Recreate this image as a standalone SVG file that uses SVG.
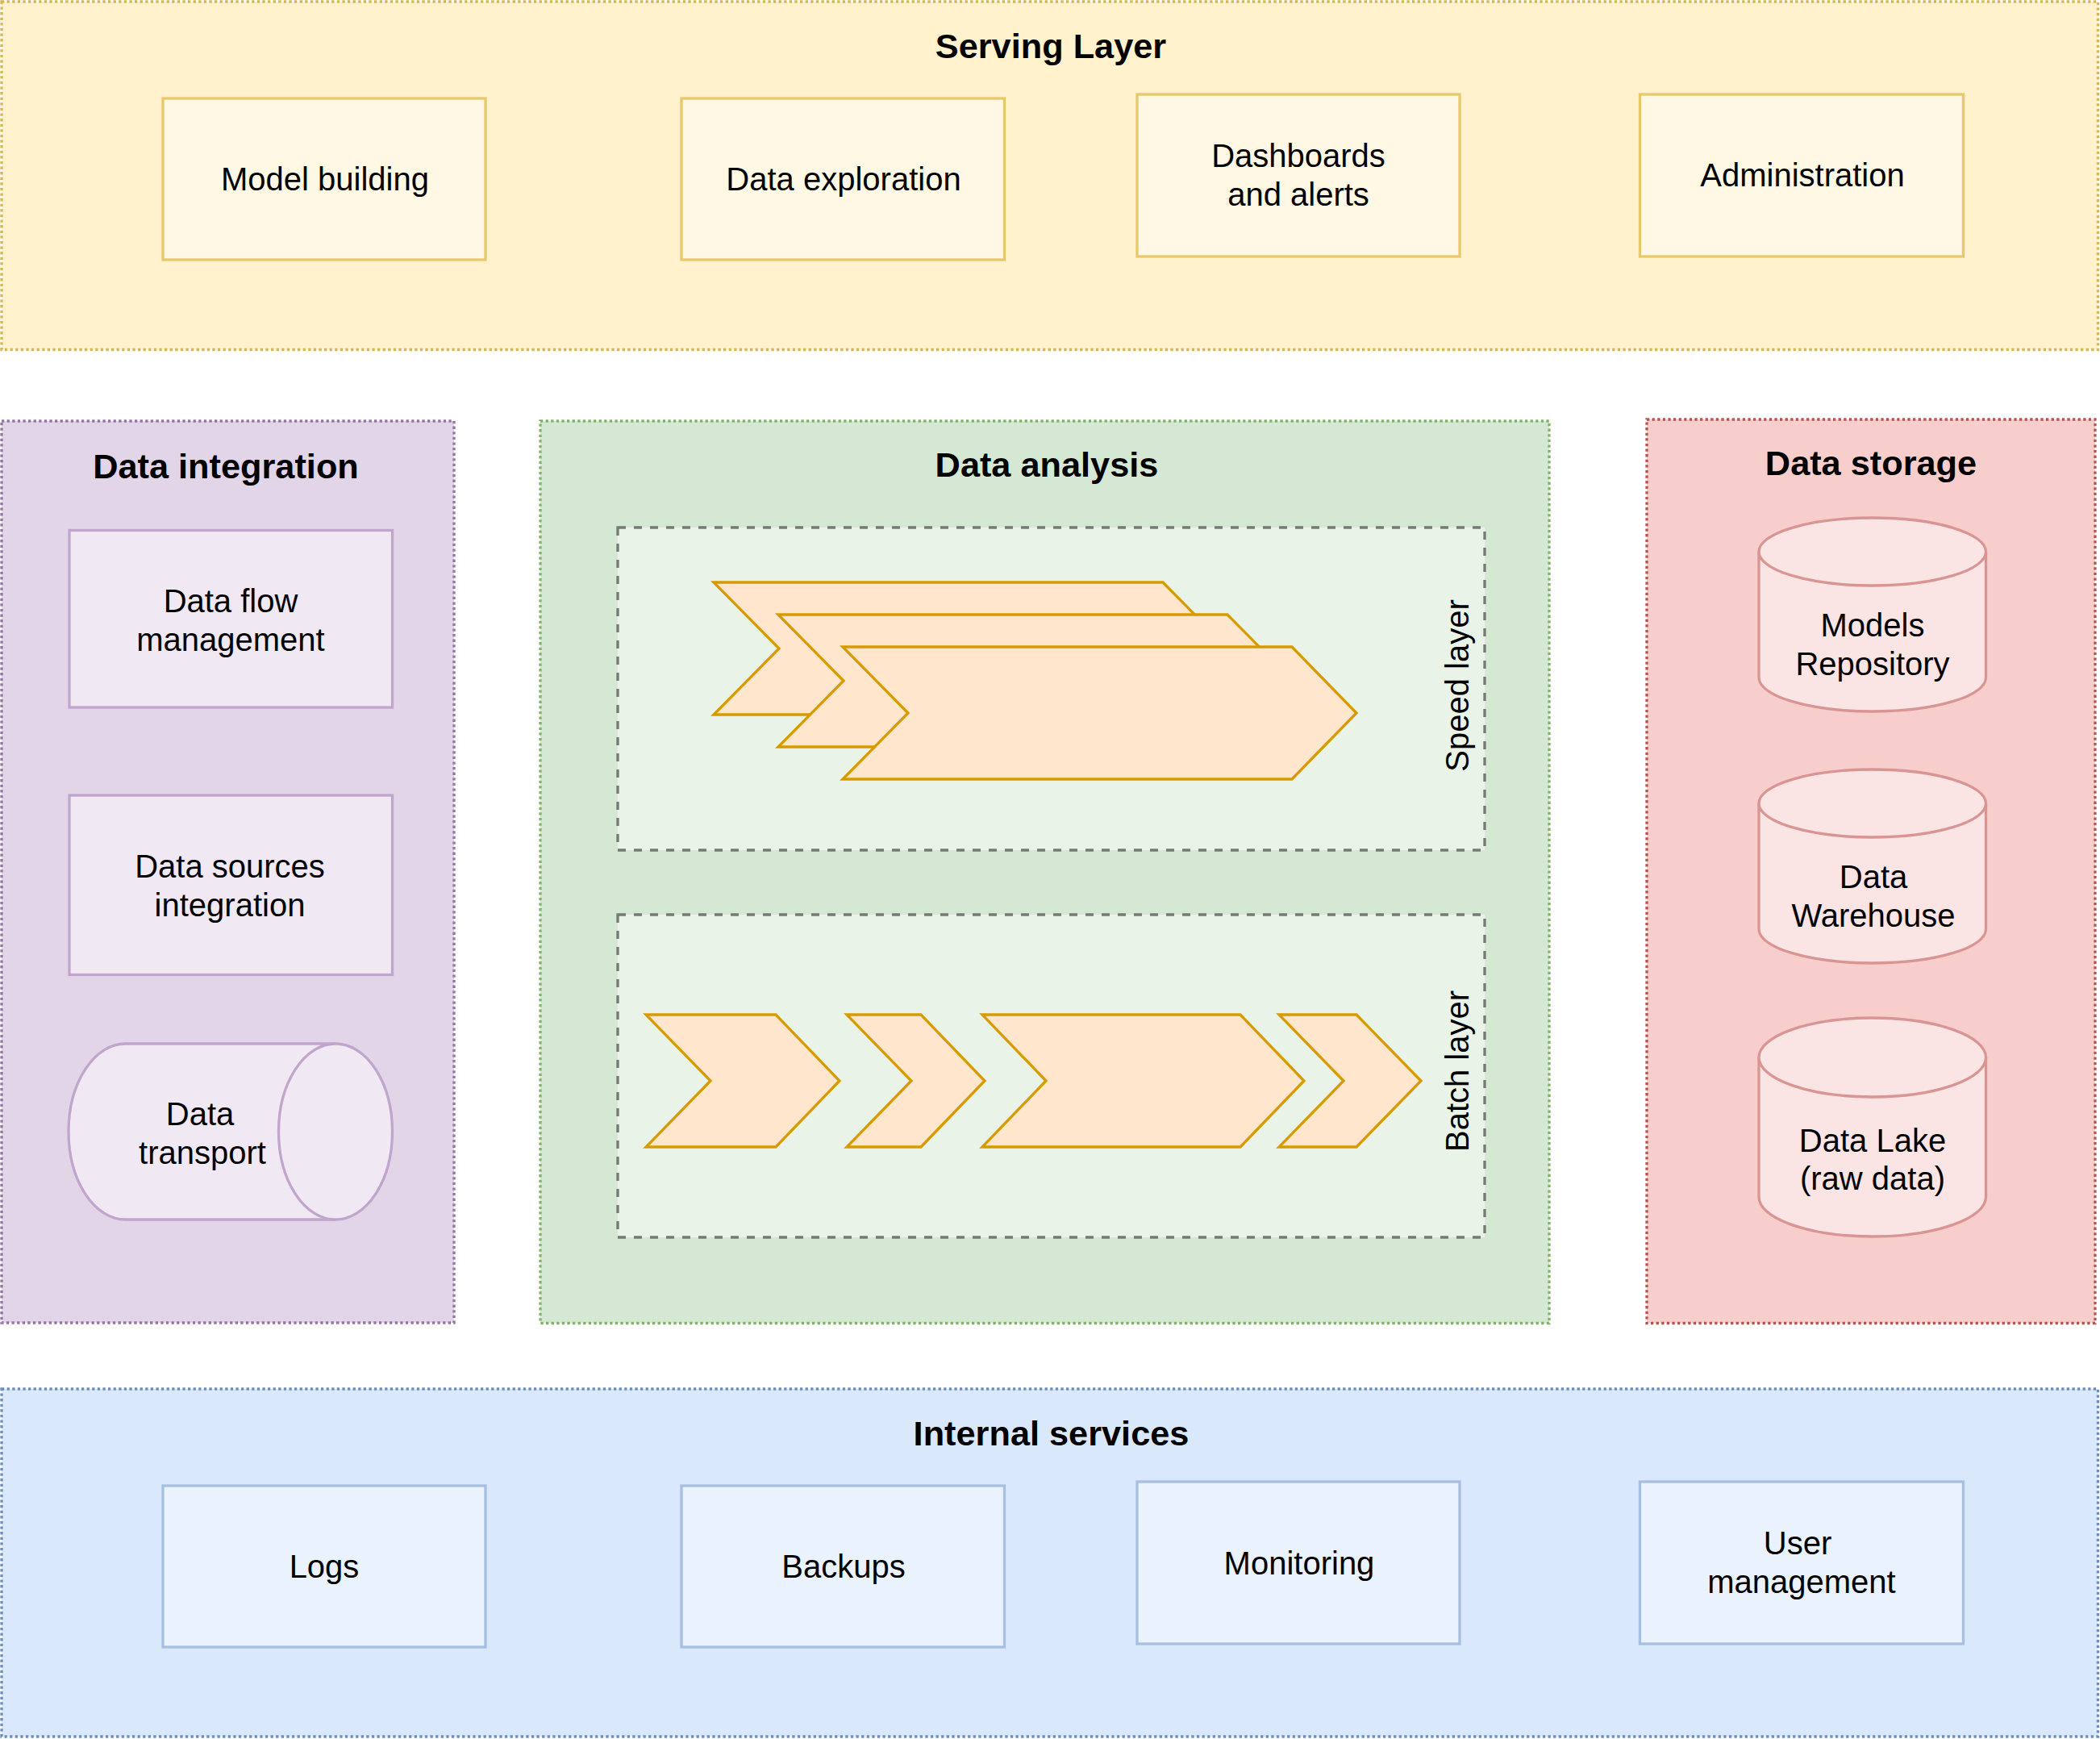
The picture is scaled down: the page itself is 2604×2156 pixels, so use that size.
<svg xmlns="http://www.w3.org/2000/svg" width="2604" height="2156" viewBox="0 0 2604 2156">
<style>
text{font-family:"Liberation Sans",Arial,Helvetica,sans-serif;fill:#000000;text-anchor:middle}
.t{font-size:40px}
.h{font-size:43.3px;font-weight:bold}
.cont{stroke-width:3.3;stroke-dasharray:3.3 3.3}
.box{stroke-width:3.3}
.sv{fill:#fff2cc;stroke:#d6b656}
.svi{fill:#fff8e5;stroke:#e9c76b}
.di{fill:#e1d5e7;stroke:#9673a6}
.dii{fill:#f0e9f3;stroke:#c0a5cd}
.da{fill:#d5e8d4;stroke:#82b366}
.lay{fill:#e9f3e8;stroke:#737b73;stroke-width:3.3;stroke-dasharray:10 10}
.chev{fill:#ffe6cc;stroke:#d79b00;stroke-width:3.3}
.ds{fill:#f8cecc;stroke:#b85450}
.dsi{fill:#fbe4e4;stroke:#d99593}
.is{fill:#dae8fc;stroke:#6c8ebf}
.isi{fill:#eaf2fd;stroke:#a7bfe0}
</style>
<rect width="2604" height="2156" fill="#ffffff"/>

<g id="serving-layer">
<rect class="cont sv" x="2" y="2" width="2599.5" height="431.5"/>
<text class="h" x="1303" y="72">Serving Layer</text>
</g>
<g id="model-building">
<rect class="box svi" x="202" y="122" width="400" height="200"/>
<text class="t" x="403" y="236">Model building</text>
</g>
<g id="data-exploration">
<rect class="box svi" x="845" y="122" width="400.5" height="200"/>
<text class="t" x="1046" y="236">Data exploration</text>
</g>
<g id="dashboards">
<rect class="box svi" x="1410" y="117" width="400" height="201"/>
<text class="t" x="1610" y="206.5">Dashboards</text>
<text class="t" x="1610" y="254.5">and alerts</text>
</g>
<g id="administration">
<rect class="box svi" x="2033.5" y="117" width="401" height="201"/>
<text class="t" x="2235" y="231">Administration</text>
</g>

<g id="data-integration">
<rect class="cont di" x="2" y="522" width="561" height="1118"/>
<text class="h" x="280" y="592.5">Data integration</text>
</g>
<g id="data-flow-management">
<rect class="box dii" x="86" y="657.5" width="400.5" height="219.5"/>
<text class="t" x="286" y="759">Data flow</text>
<text class="t" x="286" y="807">management</text>
</g>
<g id="data-sources-integration">
<rect class="box dii" x="86" y="986" width="400.5" height="222.5"/>
<text class="t" x="285" y="1088">Data sources</text>
<text class="t" x="285" y="1136">integration</text>
</g>
<g id="data-transport">
<path class="box dii" d="M155.5,1294 L416,1294 A70.5,109 0 0 1 416,1512 L155.5,1512 A70.5,109 0 0 1 155.5,1294 Z"/>
<path class="box dii" fill="none" d="M416,1294 A70.5,109 0 0 0 416,1512"/>
<text class="t" x="248" y="1395">Data</text>
<text class="t" x="251" y="1443">transport</text>
</g>

<g id="data-analysis">
<rect class="cont da" x="670" y="522" width="1251" height="1118.5"/>
<text class="h" x="1298" y="590.5">Data analysis</text>
</g>
<g id="speed-layer">
<rect class="lay" x="766" y="654" width="1075" height="400"/>
<polygon class="chev" points="885,722 1442,722 1523,804 1442,886 885,886 966,804"/>
<polygon class="chev" points="965,762 1522,762 1603,844 1522,926 965,926 1046,844"/>
<polygon class="chev" points="1045,802 1602,802 1682,884 1602,966 1045,966 1126,884"/>
<text class="t" transform="translate(1821,850) rotate(-90)">Speed layer</text>
</g>
<g id="batch-layer">
<rect class="lay" x="766" y="1134" width="1075" height="400"/>
<polygon class="chev" points="801,1258 962,1258 1041,1340 962,1422 801,1422 881,1340"/>
<polygon class="chev" points="1050,1258 1142,1258 1221,1340 1142,1422 1050,1422 1130,1340"/>
<polygon class="chev" points="1218,1258 1538,1258 1617,1340 1538,1422 1218,1422 1297,1340"/>
<polygon class="chev" points="1586,1258 1682,1258 1762,1340 1682,1422 1586,1422 1666,1340"/>
<text class="t" transform="translate(1821,1328) rotate(-90)">Batch layer</text>
</g>

<g id="data-storage">
<rect class="cont ds" x="2042" y="520" width="556" height="1120.5"/>
<text class="h" x="2320" y="589">Data storage</text>
</g>
<g id="models-repository">
<path class="box dsi" d="M2181,684 A140.75,42 0 0 1 2462.5,684 L2462.5,840 A140.75,42 0 0 1 2181,840 Z"/>
<path class="box dsi" fill="none" d="M2181,684 A140.75,42 0 0 0 2462.5,684"/>
<text class="t" x="2322" y="788.5">Models</text>
<text class="t" x="2322" y="836.5">Repository</text>
</g>
<g id="data-warehouse">
<path class="box dsi" d="M2181,996 A140.75,42 0 0 1 2462.5,996 L2462.5,1152 A140.75,42 0 0 1 2181,1152 Z"/>
<path class="box dsi" fill="none" d="M2181,996 A140.75,42 0 0 0 2462.5,996"/>
<text class="t" x="2323" y="1100.5">Data</text>
<text class="t" x="2323" y="1148.5">Warehouse</text>
</g>
<g id="data-lake">
<path class="box dsi" d="M2181,1311 A140.75,49 0 0 1 2462.5,1311 L2462.5,1484 A140.75,49 0 0 1 2181,1484 Z"/>
<path class="box dsi" fill="none" d="M2181,1311 A140.75,49 0 0 0 2462.5,1311"/>
<text class="t" x="2322" y="1428">Data Lake</text>
<text class="t" x="2322" y="1475">(raw data)</text>
</g>

<g id="internal-services">
<rect class="cont is" x="2" y="1722" width="2599.5" height="431"/>
<text class="h" x="1303.5" y="1791.5">Internal services</text>
</g>
<g id="logs">
<rect class="box isi" x="202" y="1842" width="400" height="200"/>
<text class="t" x="402" y="1956">Logs</text>
</g>
<g id="backups">
<rect class="box isi" x="845" y="1842" width="400.5" height="200"/>
<text class="t" x="1046" y="1956">Backups</text>
</g>
<g id="monitoring">
<rect class="box isi" x="1410" y="1837" width="400" height="201"/>
<text class="t" x="1611" y="1951.5">Monitoring</text>
</g>
<g id="user-management">
<rect class="box isi" x="2033.5" y="1837" width="401" height="201"/>
<text class="t" x="2229" y="1926.5">User</text>
<text class="t" x="2234" y="1975">management</text>
</g>

<g id="connectors"/>
</svg>
